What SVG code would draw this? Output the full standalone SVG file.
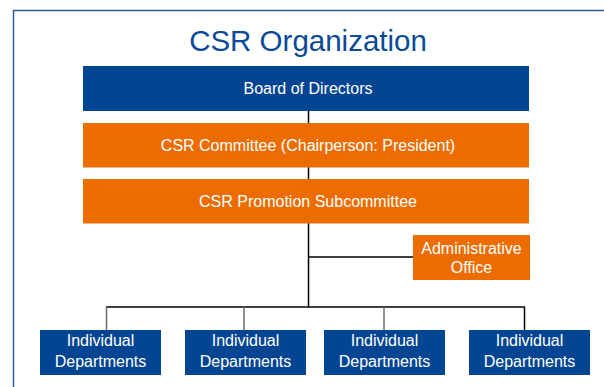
<svg xmlns="http://www.w3.org/2000/svg" width="604" height="387" viewBox="0 0 604 387">
  <style>
    .blue { fill: #034592; }
    .orange { fill: #ec6c00; }
    .label { font-family: "Liberation Sans", Arial, sans-serif; font-size: 16px; fill: #ffffff; text-anchor: middle; }
    .title { font-family: "Liberation Sans", Arial, sans-serif; font-size: 29.5px; fill: #0b4a98; text-anchor: middle; }
    .link { stroke: #000000; stroke-width: 1.5; fill: none; }
    .drop { stroke: #6e6e6e; stroke-width: 1.5; fill: none; }
  </style>

  <rect width="604" height="387" fill="#ffffff"/>
  <!-- page frame -->
  <path d="M13.5,390 V10.5 H610" fill="none" stroke="#2c5ba3" stroke-width="1.5"/>

  <text class="title" x="308" y="51">CSR Organization</text>

  <!-- connectors -->
  <g id="connectors">
    <line class="link" x1="308.5" y1="111" x2="308.5" y2="123"/>
    <line class="link" x1="308.5" y1="167" x2="308.5" y2="179"/>
    <line class="link" x1="308.5" y1="223" x2="308.5" y2="307"/>
    <line class="link" x1="308.5" y1="257" x2="413" y2="257"/>
    <line class="link" x1="106" y1="307" x2="525" y2="307"/>
    <line class="drop" x1="106.5" y1="307" x2="106.5" y2="330"/>
    <line class="drop" x1="244" y1="307" x2="244" y2="330"/>
    <line class="drop" x1="384" y1="307" x2="384" y2="330"/>
    <line class="link" x1="524.5" y1="307" x2="524.5" y2="330"/>
  </g>

  <g id="board">
    <rect class="blue" x="83" y="66" width="446" height="45"/>
    <text class="label" x="308" y="94">Board of Directors</text>
  </g>

  <g id="committee">
    <rect class="orange" x="83" y="123" width="446" height="44.5"/>
    <text class="label" x="308" y="150.5">CSR Committee (Chairperson: President)</text>
  </g>

  <g id="subcommittee">
    <rect class="orange" x="83" y="179" width="446" height="44.5"/>
    <text class="label" x="308" y="206.5">CSR Promotion Subcommittee</text>
  </g>

  <g id="admin-office">
    <rect class="orange" x="413" y="235" width="117" height="45"/>
    <text class="label" x="471.5" y="254">Administrative</text>
    <text class="label" x="471.5" y="273">Office</text>
  </g>

  <g id="dept-1">
    <rect class="blue" x="40" y="330" width="121" height="45"/>
    <text class="label" x="100.5" y="346">Individual</text>
    <text class="label" x="100.5" y="367">Departments</text>
  </g>
  <g id="dept-2">
    <rect class="blue" x="185" y="330" width="121" height="45"/>
    <text class="label" x="245.5" y="346">Individual</text>
    <text class="label" x="245.5" y="367">Departments</text>
  </g>
  <g id="dept-3">
    <rect class="blue" x="324" y="330" width="121" height="45"/>
    <text class="label" x="384.5" y="346">Individual</text>
    <text class="label" x="384.5" y="367">Departments</text>
  </g>
  <g id="dept-4">
    <rect class="blue" x="469" y="330" width="121" height="45"/>
    <text class="label" x="529.5" y="346">Individual</text>
    <text class="label" x="529.5" y="367">Departments</text>
  </g>
</svg>
